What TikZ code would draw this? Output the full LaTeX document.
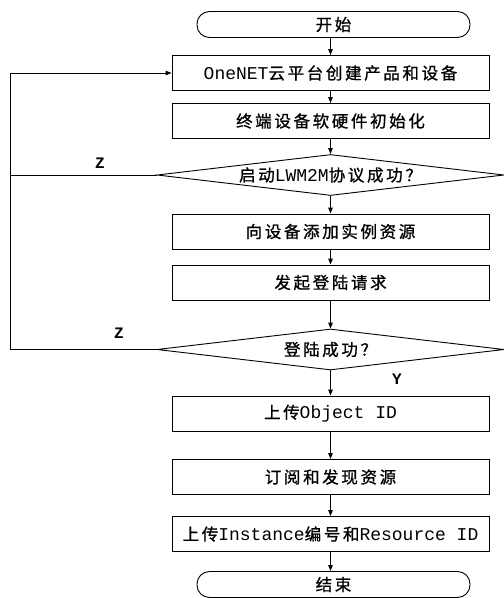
\documentclass[tikz,border=0pt]{standalone}
\usepackage{fontspec}
\setmainfont{Liberation Mono}
\newfontfamily\cjk[LetterSpace=16,FakeBold=1]{Noto Sans CJK SC}
\newcommand\zh[1]{{\fontsize{16.5}{20}\cjk #1}}
\newcommand\nowidth[1]{\makebox[0pt]{#1}}
\usetikzlibrary{shapes.geometric,arrows.meta}
\begin{document}
\begin{tikzpicture}[x=1pt,y=-1pt,line width=0.9pt,
    >={Triangle[length=6pt,width=4.5pt]},
    every node/.style={font=\fontsize{18}{20}\selectfont},
    term/.style={draw,rounded corners=12.5pt,minimum width=273pt,minimum height=26pt,inner sep=0pt},
    box/.style={draw,minimum width=317pt,minimum height=35pt,inner sep=0pt},
    dec/.style={draw,diamond,aspect=8.46,minimum width=347pt,minimum height=41pt,inner sep=0pt},
    lbl/.style={font=\fontsize{16}{18}\selectfont\bfseries}]
    \useasboundingbox (0,0) rectangle (504,598);

    \node[term] (start) at (333.5,24.5) {\zh{开始}};
    \node[box] (create) at (330.5,73) {OneNET\zh{云平台创建产品和设备}};
    \node[box] (init) at (330.5,121) {\zh{终端设备软硬件初始化}};
    \node[dec] (lwm) at (330.5,175) {\nowidth{\zh{启动}LWM2M\zh{协议成功？}}};
    \node[box] (addres) at (330.5,231.5) {\zh{向设备添加实例资源}};
    \node[box] (login) at (330.5,282.5) {\zh{发起登陆请求}};
    \node[dec] (logok) at (330.5,349.5) {\nowidth{\zh{登陆成功？}}};
    \node[box] (objid) at (330.5,413.5) {\zh{上传}Object ID};
    \node[box] (disc) at (330.5,477) {\zh{订阅和发现资源}};
    \node[box] (resid) at (330.5,534) {\zh{上传}Instance\zh{编号和}Resource ID};
    \node[term] (stop) at (333.5,584.5) {\zh{结束}};

    \draw[->] (start.south -| create) -- (create);
    \draw[->] (create) -- (init);
    \draw[->] (init) -- (lwm);
    \draw[->] (lwm) -- (addres);
    \draw[->] (addres) -- (login);
    \draw[->] (login) -- (logok);
    \draw[->] (logok) -- (objid);
    \draw[->] (objid) -- (disc);
    \draw[->] (disc) -- (resid);
    \draw[->] (resid) -- (resid |- stop.north);

    % back loop on failure
    \coordinate (back) at (10,0);
    \draw (lwm.west) -- (lwm.west -| back);
    \draw[->] (logok.west) -- (logok.west -| back) |- (create.west);

    \node[lbl] (z1) at (100,163) {Z};
    \node[lbl] (z2) at (119,333) {Z};
    \node[lbl] (y1) at (397,379) {Y};
\end{tikzpicture}
\end{document}
